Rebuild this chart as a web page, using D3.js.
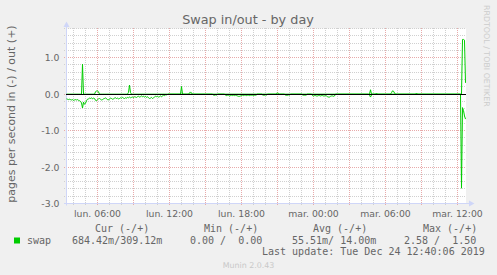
<!DOCTYPE html>
<html><head><meta charset="utf-8">
<script src="https://cdn.jsdelivr.net/npm/d3@7"></script>
<style>html,body{margin:0;padding:0;background:#f0f0f0;} svg{display:block}</style>
</head><body>
<svg id="c" width="497" height="275"></svg>
<script>
const title = "Swap in/out - by day";
const yLabel = "pages per second in (-) / out (+)";
const yTicks = [1.0, 0.0, -1.0, -2.0, -3.0];
const yDomain = [-3, 1.8];
const xTickTimes = ["2019-12-23T06:00","2019-12-23T12:00","2019-12-23T18:00","2019-12-24T00:00","2019-12-24T06:00","2019-12-24T12:00"];
const xTickLabels = ["lun. 06:00","lun. 12:00","lun. 18:00","mar. 00:00","mar. 06:00","mar. 12:00"];
const endTime = "2019-12-24T12:40";
const spanMinutes = 2000;
const stepMinutes = 5;
const seriesName = "swap";
// swap in (drawn negative), pages per second
const inVals = [
0.13,0.14,0.15,0.14,0.15,0.16,0.15,0.17,0.16,0.15,0.16,0.15,0.17,0.18,0.2,0.24,0.38,0.22,0.28,0.25,
0.18,0.14,0.13,0.11,0.12,0.1,0.13,0.11,0.12,0.17,0.18,0.15,0.13,0.12,0.14,0.16,0.15,0.13,0.12,0.1,
0.13,0.15,0.16,0.13,0.11,0.12,0.14,0.13,0.11,0.1,0.12,0.11,0.13,0.12,0.1,0.11,0.09,0.11,0.12,0.1,
0.11,0.09,0.1,0.08,0.1,0.09,0.08,0.1,0.07,0.08,0.09,0.07,0.06,0.08,0.07,0.05,0.07,0.06,0.08,0.06,
0.09,0.07,0.1,0.12,0.11,0.09,0.12,0.1,0.08,0.06,0.07,0.06,0.08,0.07,0.05,0.07,0.05,0.03,0.04,0.02,
0.02,0.01,0,0,0,0,0,0,0,0,0,0,0,0,0,0,0,0,0,0,
0,0,0,0,0,0,0,0,0,0,0,0,0,0,0,0,0,0,0,0,
0,0,0,0,0,0,0,0.03,0.03,0.02,0.03,0,0,0,0,0,0,0,0,0.03,
0.04,0.03,0.03,0.05,0.04,0.03,0.04,0.03,0.04,0.03,0.04,0.05,0.06,0.06,0.05,0.04,0.03,0.04,0.03,0.03,
0.04,0.03,0.03,0.04,0.03,0.03,0.03,0.04,0.03,0.03,0.02,0,0,0,0,0,0.02,0.03,0.03,0.02,
0.03,0,0,0,0,0,0,0,0,0,0,0,0,0,0,0,0,0,0,0.03,
0.03,0.03,0.02,0.03,0,0,0,0,0,0,0,0,0,0,0,0,0.02,0.03,0.03,0.03,
0.02,0,0,0,0,0,0.04,0.05,0.04,0.04,0.05,0.05,0.04,0.04,0.05,0.04,0.04,0.05,0.05,0.04,
0.05,0.07,0.08,0.08,0.06,0.05,0.05,0.06,0.05,0,0,0,0,0,0,0,0,0,0,0,
0,0,0,0,0,0,0,0,0,0,0,0,0,0,0,0,0,0,0,0,
0,0,0,0.03,0.08,0.02,0,0,0,0,0,0,0,0,0,0,0,0,0,0,
0,0,0,0,0,0,0,0,0,0,0,0,0,0,0,0,0,0,0,0,
0,0,0,0,0,0,0,0,0,0,0,0,0,0,0,0,0,0,0,0,
0,0,0,0,0,0,0,0,0,0,0,0,0,0,0,0,0,0,0,0,
0,0,0,0,0,0,0,0,0,0,0,0,0,0,0,2.58,0.37,0.45,0.6,0.684
];
// swap out (drawn positive)
const outVals = [
0,0,0,0,0,0,0,0,0,0,0,0,0,0,0,0,0.82,0,0,0,
0,0,0,0,0,0,0,0,0,0.06,0.09,0.09,0.06,0,0,0,0,0,0,0,
0,0,0,0,0,0,0,0,0,0,0,0,0,0,0,0,0,0,0,0,
0,0,0.05,0.25,0.04,0,0,0,0,0,0,0,0,0,0,0,0,0,0,0,
0,0,0,0,0,0,0,0,0,0,0,0,0,0,0,0,0,0,0,0,
0,0,0,0,0,0,0,0,0,0,0,0,0,0,0,0.21,0,0,0,0,
0,0,0,0.03,0.06,0.03,0,0,0,0,0,0,0,0,0,0,0,0,0,0,
0,0,0,0,0,0,0,0,0,0,0,0,0,0,0,0,0,0,0,0,
0,0,0,0,0,0,0,0,0,0,0,0,0,0,0,0,0,0,0,0,
0,0,0,0,0,0,0,0,0,0,0,0,0,0,0,0,0,0,0,0,
0,0,0,0,0,0,0,0,0,0,0.02,0.03,0.02,0,0,0,0,0,0,0,
0,0,0,0,0,0,0,0,0,0,0,0,0,0,0,0,0,0,0,0,
0,0,0,0,0,0,0,0,0,0,0,0,0,0,0,0,0,0,0,0,
0,0,0,0,0,0,0,0,0,0,0,0,0,0,0,0,0,0,0,0,
0,0,0,0,0,0,0,0,0,0,0,0,0,0,0,0,0,0,0,0,
0,0,0,0,0.12,0,0,0,0,0,0.03,0,0,0,0,0,0,0,0,0,
0,0,0,0,0,0.04,0.09,0.08,0.03,0,0,0,0,0,0,0,0,0,0,0,
0,0,0,0,0,0,0,0,0,0,0.03,0,0,0,0,0,0,0,0,0,
0,0,0,0,0,0,0,0,0,0,0,0,0,0,0,0,0,0,0,0,
0,0,0,0,0,0,0,0,0,0,0,0,0,0,0,0,1.5,1.5,1.48,0.309
];
const legendHeaders = ["Cur (-/+)","Min (-/+)","Avg (-/+)","Max (-/+)"];
const legendValues = ["684.42m/309.12m","0.00 /  0.00","55.51m/ 14.00m","2.58 /  1.50"];
const lastUpdate = "Last update: Tue Dec 24 12:40:06 2019";
const version = "Munin 2.0.43";
const watermark = "RRDTOOL / TOBI OETIKER";

const svg = d3.select("#c");
const L = 66, R = 466, T = 28.5, B = 203.5;
const FONT = "#666666", AXIS = "#cfd6f8", GREEN = "#00cc00";
const MINOR = "#d0d0d0", MAJOR = "#e8aaaa";

const end = new Date(endTime);
const start = new Date(end.getTime() - spanMinutes * 60000);
const x = d3.scaleTime().domain([start, end]).range([L, R]);
const y = d3.scaleLinear().domain(yDomain).range([B, T]);
const tAt = i => new Date(start.getTime() + (i + 0.5) * stepMinutes * 60000);

// dotted patterns for grid lines
const defs = svg.append("defs");
[["hMinor", MINOR, 2, 1], ["hMajor", MAJOR, 2, 1], ["vMinor", MINOR, 1, 2], ["vMajor", MAJOR, 1, 2]]
  .forEach(([id, col, w, h]) => {
    const p = defs.append("pattern").attr("id", id).attr("patternUnits", "userSpaceOnUse")
      .attr("width", w).attr("height", h);
    p.append("rect").attr("width", 1).attr("height", 1).attr("fill", col);
  });

svg.append("rect").attr("width", 497).attr("height", 275).attr("fill", "#f0f0f0");
svg.append("rect").attr("x", L).attr("y", T).attr("width", R - L).attr("height", B - T).attr("fill", "#ffffff");

const g = svg.append("g").attr("shape-rendering", "crispEdges");
// horizontal grid
const minorY = d3.range(-15, 10).map(k => k / 5);
minorY.forEach(v => {
  const major = Math.abs(v - Math.round(v)) < 1e-9;
  const yy = Math.floor(y(v));
  g.append("rect").attr("x", L - 2).attr("width", R - L + 2).attr("y", yy).attr("height", 1)
    .attr("fill", major ? "url(#hMajor)" : "url(#hMinor)");
});
// vertical grid
d3.timeHour.range(start, end).forEach(h => {
  const major = h.getHours() % 3 === 0;
  const xx = Math.round(x(h)) - 1;
  g.append("rect").attr("x", xx).attr("width", 1).attr("y", Math.floor(T)).attr("height", B - T + 3)
    .attr("fill", major ? "url(#vMajor)" : "url(#vMinor)");
});

// axes
svg.append("line").attr("x1", L + 0.5).attr("x2", L + 0.5).attr("y1", B + 2).attr("y2", 26)
  .attr("stroke", AXIS);
svg.append("path").attr("d", `M${L + 0.5},21.5L${L - 2.5},27L${L + 3.5},27Z`).attr("fill", AXIS);
svg.append("line").attr("x1", L - 2).attr("x2", 470).attr("y1", B).attr("y2", B)
  .attr("stroke", AXIS);
svg.append("path").attr("d", `M474.5,${B}L469,${B - 3}L469,${B + 3}Z`).attr("fill", AXIS);

// series
const line = d3.line().x((d, i) => x(tAt(i))).y(d => y(d));
svg.append("path").datum(inVals.map(v => -v)).attr("d", line)
  .attr("fill", "none").attr("stroke", GREEN).attr("stroke-width", 1);
svg.append("path").datum(outVals).attr("d", line)
  .attr("fill", "none").attr("stroke", GREEN).attr("stroke-width", 1);
// zero rule
svg.append("line").attr("x1", L).attr("x2", R).attr("y1", Math.floor(y(0)) + 0.5).attr("y2", Math.floor(y(0)) + 0.5)
  .attr("stroke", "#000");

// tick labels
const sans = "DejaVu Sans", mono = "DejaVu Sans Mono";
yTicks.forEach(v => {
  svg.append("text").attr("x", 59.5).attr("y", Math.floor(y(v)) + 3.8).attr("text-anchor", "end")
    .attr("font-family", sans).attr("font-size", 9.3).attr("fill", FONT).text(v.toFixed(1));
});
xTickTimes.forEach((s, i) => {
  const xx = Math.round(x(new Date(s))) - 0.5;
  svg.append("text").attr("x", xx).attr("y", 216.5).attr("text-anchor", "middle")
    .attr("font-family", sans).attr("font-size", 9.3).attr("fill", FONT).text(xTickLabels[i]);
});

// title, labels
svg.append("text").attr("x", 248).attr("y", 24.3).attr("text-anchor", "middle")
  .attr("font-family", sans).attr("font-size", 12.8).attr("fill", FONT).text(title);
svg.append("text").attr("transform", "translate(14.5,114) rotate(-90)").attr("text-anchor", "middle")
  .attr("font-family", sans).attr("font-size", 11).attr("fill", FONT).text(yLabel);
svg.append("text").attr("transform", "translate(484,5) rotate(90)").attr("text-anchor", "start")
  .attr("font-family", sans).attr("font-size", 7.9).attr("fill", "#cccccc").text(watermark);

// legend
const headerX = [95, 204, 313, 423];
const valueX = [72, 190, 292, 404];
legendHeaders.forEach((h, i) => {
  svg.append("text").attr("x", headerX[i]).attr("y", 231.5).attr("xml:space", "preserve")
    .style("white-space", "pre").attr("font-family", mono).attr("font-size", 10).attr("fill", FONT).text(h);
});
svg.append("rect").attr("x", 14).attr("y", 237.5).attr("width", 6).attr("height", 6).attr("fill", GREEN);
svg.append("text").attr("x", 27).attr("y", 243.5).attr("font-family", mono).attr("font-size", 10)
  .attr("fill", FONT).text(seriesName);
legendValues.forEach((v, i) => {
  svg.append("text").attr("x", valueX[i]).attr("y", 243.5).attr("xml:space", "preserve")
    .style("white-space", "pre").attr("font-family", mono).attr("font-size", 10).attr("fill", FONT).text(v);
});
svg.append("text").attr("x", 262).attr("y", 255).style("white-space", "pre")
  .attr("font-family", mono).attr("font-size", 10).attr("fill", FONT).text(lastUpdate);
svg.append("text").attr("x", 248.5).attr("y", 267.5).attr("text-anchor", "middle")
  .attr("font-family", sans).attr("font-size", 7.9).attr("fill", "#c8c8c8").text(version);
</script>
</body></html>
